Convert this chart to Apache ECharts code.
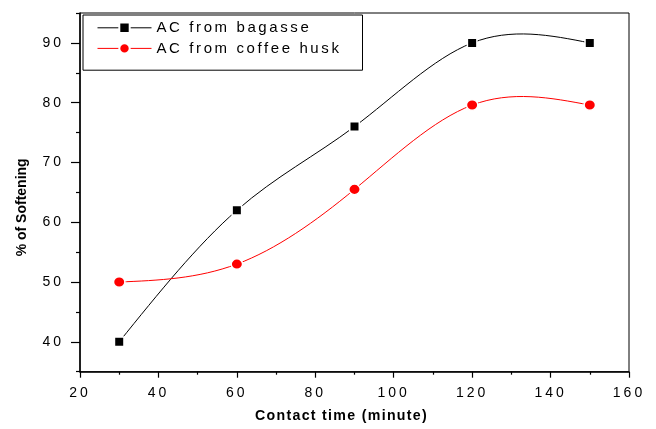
<!DOCTYPE html>
<html>
<head>
<meta charset="utf-8">
<script src="https://cdn.jsdelivr.net/npm/echarts@6/dist/echarts.min.js"></script>
<style>html,body{margin:0;padding:0;background:#fff;}#c{width:656px;height:429px;}</style>
</head>
<body>
<div id="c"></div>
<script>
const times = [30, 60, 90, 120, 150];
const bagasse = [40, 62, 76, 90, 90];
const coffeeHusk = [50, 53, 65.5, 79.6, 79.6];
const yMajorTicks = [40, 50, 60, 70, 80, 90];
const yMinorTicks = [35, 45, 55, 65, 75, 85, 95];
const seriesNames = ['AC from bagasse', 'AC from coffee husk'];

// wide letter spacing like the original figure's text
(function () {
  const P = CanvasRenderingContext2D.prototype;
  if (!('letterSpacing' in P)) return;
  const spacingFor = f => {
    if (/bold/.test(f)) return /14\.2px/.test(f) ? '1.3px' : '0px';
    if (/15px/.test(f)) return '2.6px';
    return '3px';
  };
  const fill = P.fillText, measure = P.measureText;
  P.fillText = function () { this.letterSpacing = spacingFor(this.font); return fill.apply(this, arguments); };
  P.measureText = function () { this.letterSpacing = spacingFor(this.font); return measure.apply(this, arguments); };
})();

// natural cubic spline through the data points (pixel space), drawn as beziers
function splineItem(ys, color) {
  return function (params, api) {
    if (params.dataIndexInside !== 0) return null;
    const pts = times.map((t, i) => api.coord([t, ys[i]]));
    const n = pts.length, x = pts.map(p => p[0]), y = pts.map(p => p[1]);
    const h = [];
    for (let i = 0; i < n - 1; i++) h.push(x[i + 1] - x[i]);
    const M = new Array(n).fill(0);
    const a = [], b = [], c = [], d = [];
    for (let i = 1; i < n - 1; i++) {
      a.push(h[i - 1]); b.push(2 * (h[i - 1] + h[i])); c.push(h[i]);
      d.push(6 * ((y[i + 1] - y[i]) / h[i] - (y[i] - y[i - 1]) / h[i - 1]));
    }
    const m = b.length;
    for (let i = 1; i < m; i++) {
      const w = a[i] / b[i - 1];
      b[i] -= w * c[i - 1]; d[i] -= w * d[i - 1];
    }
    const sol = new Array(m);
    for (let i = m - 1; i >= 0; i--) sol[i] = (d[i] - (i < m - 1 ? c[i] * sol[i + 1] : 0)) / b[i];
    for (let i = 0; i < m; i++) M[i + 1] = sol[i];
    const slope = [];
    for (let i = 0; i < n - 1; i++) slope.push((y[i + 1] - y[i]) / h[i] - h[i] * (2 * M[i] + M[i + 1]) / 6);
    slope.push((y[n - 1] - y[n - 2]) / h[n - 2] + h[n - 2] * (M[n - 2] + 2 * M[n - 1]) / 6);
    let path = 'M' + x[0] + ' ' + y[0];
    for (let i = 0; i < n - 1; i++) {
      const k = h[i] / 3;
      path += ' C' + (x[i] + k) + ' ' + (y[i] + slope[i] * k) + ' ' +
        (x[i + 1] - k) + ' ' + (y[i + 1] - slope[i + 1] * k) + ' ' + x[i + 1] + ' ' + y[i + 1];
    }
    return {type: 'path', shape: {pathData: path}, style: {fill: null, stroke: color, lineWidth: 1}};
  };
}

const font = 'Liberation Sans';
const chart = echarts.init(document.getElementById('c'), null, {renderer: 'canvas'});
chart.setOption({
  animation: false,
  backgroundColor: '#fff',
  grid: {left: 80, right: 27, top: 13, bottom: 57, show: true, borderColor: '#000', borderWidth: 1, backgroundColor: 'transparent'},
  legend: {
    orient: 'vertical', left: 83, top: 15,
    borderColor: '#000', borderWidth: 1, backgroundColor: '#fff',
    padding: [4, 21, 13, 14], itemGap: 3, itemWidth: 54, itemHeight: 13,
    textStyle: {fontFamily: font, fontSize: 15, color: '#000'},
    lineStyle: {opacity: 1, width: 1},
    data: seriesNames
  },
  xAxis: {
    type: 'value', min: 20, max: 160, interval: 20,
    name: 'Contact time (minute)', nameLocation: 'middle', nameGap: 37,
    nameTextStyle: {fontFamily: font, fontSize: 14.2, fontWeight: 'bold', color: '#000', padding: [0, 26, 0, 0]},
    axisLine: {lineStyle: {color: '#000', width: 1.5}},
    axisTick: {inside: false, length: 6, lineStyle: {color: '#000', width: 1.2}},
    minorTick: {show: true, splitNumber: 2, length: 3, lineStyle: {color: '#000', width: 1.2}},
    splitLine: {show: false},
    axisLabel: {fontFamily: font, fontSize: 14, color: '#000', margin: 13}
  },
  yAxis: [{
    type: 'value', min: 35, max: 95,
    name: '% of Softening', nameLocation: 'middle', nameGap: 51, nameRotate: 90,
    nameTextStyle: {fontFamily: font, fontSize: 14, fontWeight: 'bold', color: '#000', padding: [0, 30, 0, 0]},
    axisLine: {lineStyle: {color: '#000', width: 1.5}},
    axisTick: {inside: false, length: 9, customValues: yMajorTicks, lineStyle: {color: '#000', width: 1.2}},
    splitLine: {show: false},
    axisLabel: {fontFamily: font, fontSize: 14, color: '#000', margin: 16, customValues: yMajorTicks}
  }, {
    type: 'value', min: 35, max: 95, position: 'left',
    axisLine: {show: false},
    axisTick: {inside: false, length: 4, customValues: yMinorTicks, lineStyle: {color: '#000', width: 1.2}},
    splitLine: {show: false},
    axisLabel: {show: false, customValues: yMinorTicks}
  }],
  series: [{
    name: 'bagasse curve', type: 'custom', z: 1, clip: true,
    data: times.map((t, i) => [t, bagasse[i]]), encode: {x: 0, y: 1},
    renderItem: splineItem(bagasse, '#000')
  }, {
    name: 'coffee husk curve', type: 'custom', z: 1, clip: true,
    data: times.map((t, i) => [t, coffeeHusk[i]]), encode: {x: 0, y: 1},
    renderItem: splineItem(coffeeHusk, '#ff0000')
  }, {
    name: seriesNames[0], type: 'line', z: 3,
    data: times.map((t, i) => [t, bagasse[i]]),
    symbol: 'rect', symbolSize: 9.5,
    itemStyle: {color: '#000', borderColor: '#fff', borderWidth: 1.5},
    lineStyle: {color: '#000', width: 1, opacity: 0}
  }, {
    name: seriesNames[1], type: 'line', z: 3,
    data: times.map((t, i) => [t, coffeeHusk[i]]),
    symbol: 'circle', symbolSize: [11.5, 10.5],
    itemStyle: {color: '#ff0000', borderColor: '#fff', borderWidth: 1.5},
    lineStyle: {color: '#ff0000', width: 1, opacity: 0}
  }]
});
</script>
</body>
</html>
